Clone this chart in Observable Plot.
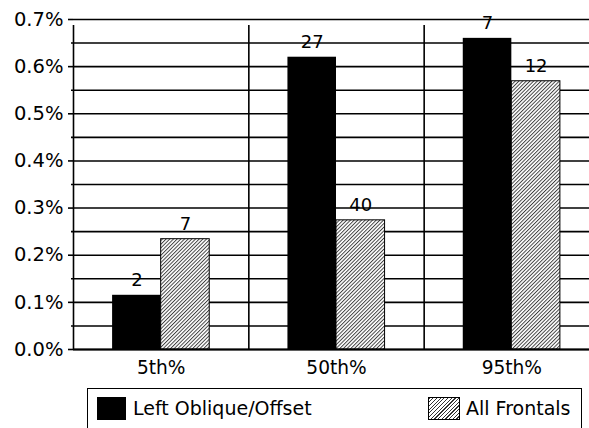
<!DOCTYPE html>
<html>
<head>
<meta charset="utf-8">
<script src="https://cdn.jsdelivr.net/npm/d3@7"></script>
<script src="https://cdn.jsdelivr.net/npm/@observablehq/plot@0.6"></script>
<style>
  html, body { margin: 0; padding: 0; background: #fff; }
  #chart svg { display: block; overflow: visible; }
  .legend {
    position: relative;
    margin: 3px 0 0 87px;
    width: 493px;
    height: 45px;
    border: 1.5px solid #000;
    font-family: "DejaVu Sans", sans-serif;
    font-size: 19px;
    color: #000;
  }
  .legend .sw { position: absolute; top: 7.5px; height: 23px; box-sizing: border-box; }
  .legend .lbl { position: absolute; top: 6px; line-height: 26px; white-space: nowrap; }
</style>
</head>
<body>
<div id="chart"></div>
<div class="legend">
  <div class="sw" style="left:8.5px;width:29px;background:#000;"></div>
  <div class="lbl" style="left:45px;">Left Oblique/Offset</div>
  <div class="sw" style="left:339.5px;width:32px;border:1px solid #000;background:repeating-linear-gradient(135deg,#333 0 0.9px,#fff 0.9px 2.6px);"></div>
  <div class="lbl" style="left:378px;">All Frontals</div>
</div>
<script>
// Percentile groups and the two series (rates as fractions)
const categories = ["5th%", "50th%", "95th%"];
const leftOblique = [0.00115, 0.0062, 0.0066];
const allFrontals = [0.00234, 0.00274, 0.00569];
// Case counts printed above each bar
const leftCounts = [2, 27, 7];
const frontalCounts = [7, 40, 12];
// Axis ticks
const yMajor = [0, 0.001, 0.002, 0.003, 0.004, 0.005, 0.006, 0.007];
const yMinor = [0.0005, 0.0015, 0.0025, 0.0035, 0.0045, 0.0055, 0.0065];

// Each group spans one unit on x; the two bars sit side by side around its centre.
const barW = 0.277;
const rows = [];
categories.forEach((c, i) => {
  rows.push({cat: c, series: "left", value: leftOblique[i], count: leftCounts[i], x1: i + 0.5 - barW, x2: i + 0.5});
  rows.push({cat: c, series: "frontal", value: allFrontals[i], count: frontalCounts[i], x1: i + 0.5, x2: i + 0.5 + barW});
});

// Diagonal hatching used by the "All Frontals" bars
const hatchDefs = () => {
  const defs = d3.create("svg:defs");
  const p = defs.append("pattern")
    .attr("id", "hatch")
    .attr("patternUnits", "userSpaceOnUse")
    .attr("width", 2.6).attr("height", 2.6)
    .attr("patternTransform", "rotate(45)");
  p.append("rect").attr("width", 2.6).attr("height", 2.6).attr("fill", "#fff");
  p.append("line").attr("x1", 0.5).attr("y1", 0).attr("x2", 0.5).attr("y2", 2.6)
    .attr("stroke", "#333").attr("stroke-width", 0.9);
  return defs.node();
};

const pct = d => (d * 100).toFixed(1) + "%";

const chart = Plot.plot({
  width: 589,
  height: 385,
  marginLeft: 73,
  marginRight: -10,
  marginTop: 19,
  marginBottom: 36,
  style: {fontFamily: "DejaVu Sans, sans-serif", fontSize: "18px", color: "#000", background: "#fff"},
  x: {domain: [0, 3], axis: null},
  y: {domain: [0, 0.007], axis: null},
  marks: [
    hatchDefs,
    // horizontal gridlines every 0.05%
    Plot.ruleY(yMajor.concat(yMinor), {stroke: "#000", strokeWidth: 1.6}),
    // group separators (x = 0 doubles as the y axis line)
    Plot.ruleX([0, 1, 2, 3], {y1: 0, y2: 0.007, insetBottom: -6, stroke: "#000", strokeWidth: 1.6}),
    Plot.axisY({ticks: yMajor, label: null, tickSize: 5, tickPadding: 5, tickFormat: pct, strokeWidth: 1.6, fontSize: 19.5}),
    Plot.axisY({ticks: yMinor, label: null, tickSize: 2, tickFormat: () => "", strokeWidth: 1.6}),
    // bars
    Plot.rectY(rows.filter(d => d.series === "left"), {x1: "x1", x2: "x2", y1: 0, y2: "value", fill: "#000"}),
    Plot.rectY(rows.filter(d => d.series === "frontal"), {x1: "x1", x2: "x2", y1: 0, y2: "value", fill: "url(#hatch)", stroke: "#000", strokeWidth: 1}),
    Plot.ruleY([0], {stroke: "#000", strokeWidth: 2}),
    // counts above bars
    Plot.text(rows, {x: d => (d.x1 + d.x2) / 2, y: "value", text: "count", dy: -15, fontSize: 18, fill: "#000"}),
    // category labels
    Plot.text(categories, {x: (d, i) => i + 0.5, y: 0, text: d => d, dy: 19, fontSize: 18.6, fill: "#000"})
  ]
});
document.getElementById("chart").appendChild(chart);
</script>
</body>
</html>
